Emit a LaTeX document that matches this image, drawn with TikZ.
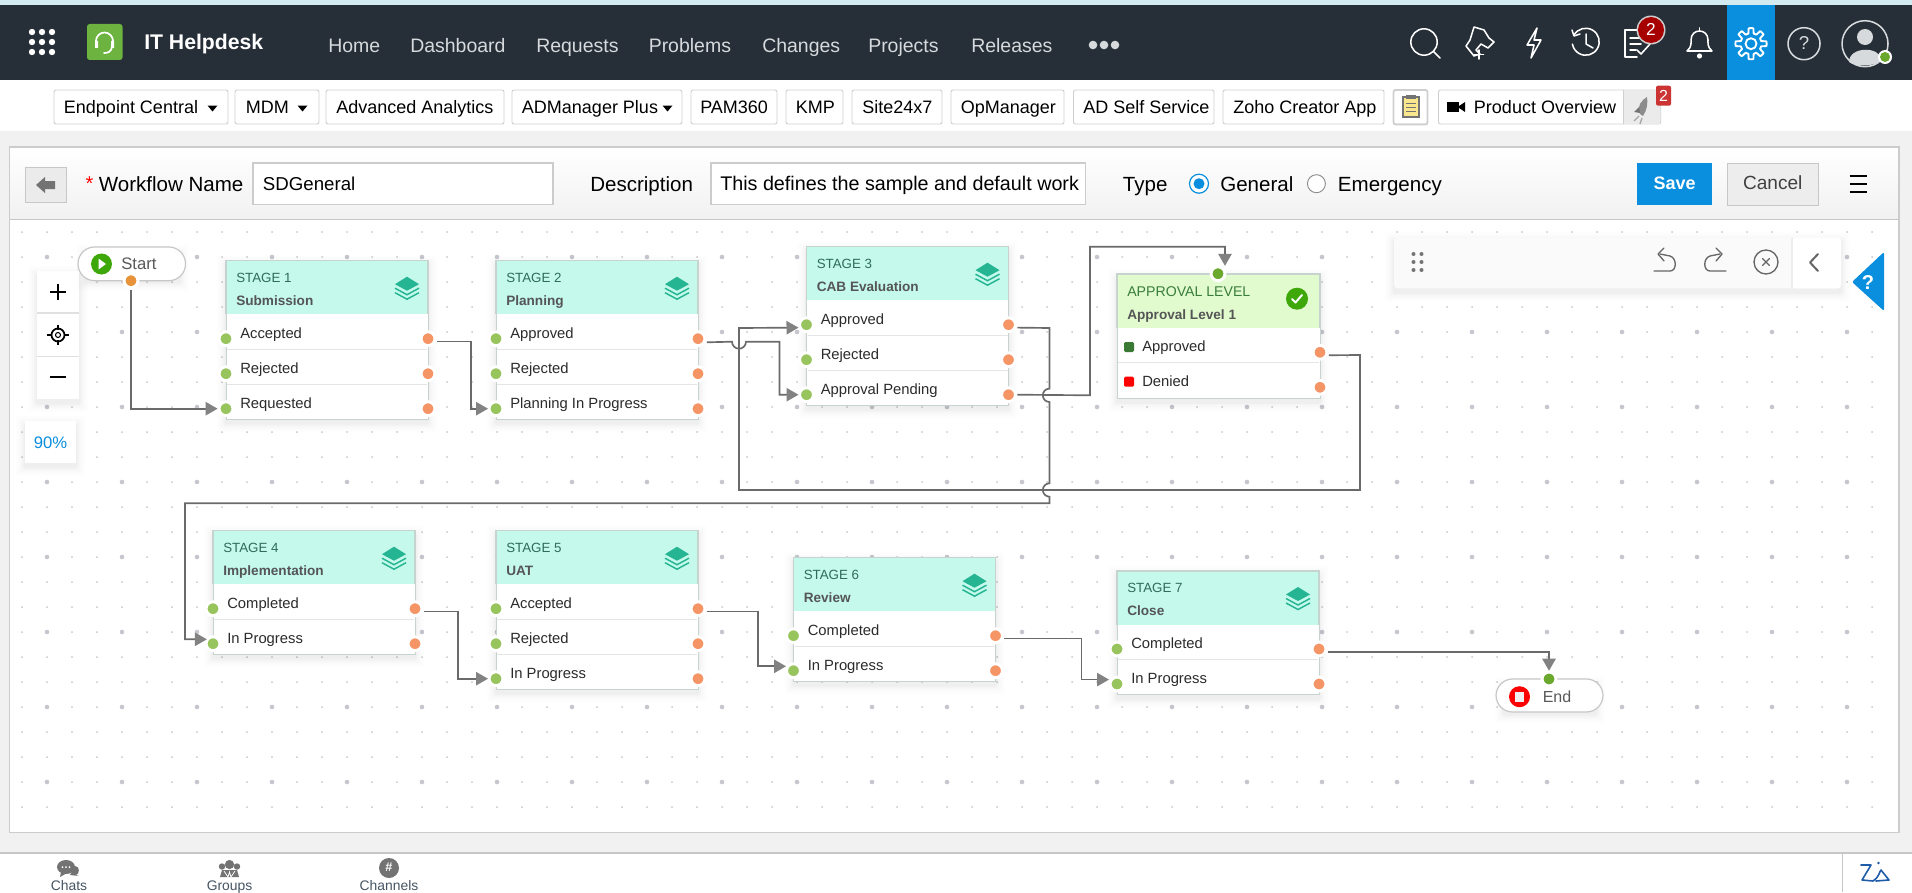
\documentclass[tikz,border=0pt]{standalone}
\usepackage{fontspec}
\setmainfont{Liberation Sans}
\usetikzlibrary{arrows.meta,calc}
\definecolor{barbg}{HTML}{262E37}
\definecolor{stripbg}{HTML}{D3EAF0}
\definecolor{pagebg}{HTML}{F1F1F1}
\definecolor{hdr}{HTML}{C4F9EC}
\definecolor{hdrline}{HTML}{C6D3CF}
\definecolor{aphdr}{HTML}{E1FBCF}
\definecolor{stagetxt}{HTML}{2E6B5C}
\definecolor{titletxt}{HTML}{555555}
\definecolor{rowtxt}{HTML}{2B2B2B}
\definecolor{teal}{HTML}{25B592}
\definecolor{pin}{HTML}{97C45C}
\definecolor{pout}{HTML}{F59566}
\definecolor{wirec}{HTML}{6A6A6A}
\definecolor{tipc}{HTML}{828282}
\definecolor{blueb}{HTML}{0A8FDE}
\definecolor{btnline}{HTML}{CFCFCF}
\definecolor{dotc}{HTML}{C6C6CE}
\definecolor{navtxt}{HTML}{D6DADD}
\definecolor{clipy}{HTML}{FAE68C}
\definecolor{startg}{HTML}{3EA80A}
\definecolor{logog}{HTML}{6CB33F}
\definecolor{aplab}{HTML}{3A7D3A}
\definecolor{dkg}{HTML}{3A7A34}
\definecolor{bott}{HTML}{465564}
\definecolor{ziab}{HTML}{1E5CAA}
\definecolor{topp}{HTML}{6AA82E}
\definecolor{orgp}{HTML}{E8933A}
\tikzset{
  lab/.style={inner sep=0pt,anchor=mid west,yshift=-1.8pt,font=\fontsize{11.1pt}{13pt}\selectfont,text=rowtxt},
  cen/.style={inner sep=0pt,anchor=mid,yshift=-1.6pt},
  nav/.style={inner sep=0pt,anchor=mid west,yshift=-2.6pt,font=\fontsize{14.6pt}{17pt}\selectfont,text=navtxt},
  tool/.style={inner sep=0pt,anchor=mid west,yshift=-2.5pt,font=\fontsize{13.5pt}{16pt}\selectfont,text=black},
  tbtn/.style={draw=btnline,fill=white,rounded corners=1.5pt,line width=.7pt},
  formt/.style={inner sep=0pt,anchor=mid west,yshift=-2.5pt,font=\fontsize{15.4pt}{18pt}\selectfont,text=black},
  stagelab/.style={inner sep=0pt,anchor=mid west,yshift=-1.5pt,font=\fontsize{10pt}{12pt}\selectfont,text=stagetxt},
  stagetitle/.style={inner sep=0pt,anchor=mid west,yshift=-1.2pt,font=\bfseries\fontsize{10.2pt}{12pt}\selectfont,text=titletxt},
  portin/.style={circle,inner sep=0pt,minimum size=10.4pt,fill=pin,draw=white,line width=2.2pt},
  portout/.style={circle,inner sep=0pt,minimum size=10.4pt,fill=pout,draw=white,line width=2.2pt},
  porttop/.style={circle,inner sep=0pt,minimum size=10.4pt,fill=topp,draw=white,line width=2.2pt},
  portstart/.style={circle,inner sep=0pt,minimum size=10.4pt,fill=orgp,draw=white,line width=2.2pt},
  wire/.style={draw=wirec,line width=1.25pt,line join=miter},
  wiret/.style={wire,-{Triangle[length=9pt,width=10pt,fill=tipc,color=tipc]}},
  icw/.style={draw=white,line width=1.15pt,line cap=round,line join=round},
  icg/.style={draw=black!60,line width=1pt,line cap=round,line join=round},
}
\newcommand\softshadow[4]{%
  \foreach \sp/\so in {9/.006,7/.008,5/.01,3/.014,1.5/.018}{%
    \fill[black,opacity=\so,rounded corners=2pt] (#1-\sp,#2-\sp+4) rectangle (#3+\sp,#4+\sp+4);}}
\newcommand\layersicon[2]{%
  \fill[teal] (#1,#2-10) -- (#1+12,#2-2.5) -- (#1,#2+4) -- (#1-12,#2-2.5) -- cycle;
  \draw[teal,line width=1.1pt] (#1-12,#2+1.5) -- (#1,#2+8) -- (#1+12,#2+1.5);
  \draw[teal,line width=1.1pt] (#1-12,#2+6) -- (#1,#2+12.5) -- (#1+12,#2+6);}
% id, x, y, label, title, rows, number of rows
\newcommand\stagecard[7]{%
  \softshadow{#2}{#3}{#2+202}{#3+53.5+35*#7}
  \fill[white] (#2,#3) rectangle (#2+202,#3+53.5+35*#7);
  \draw[hdrline,line width=.7pt] (#2,#3) rectangle (#2+202,#3+53.5+35*#7);
  \fill[hdr] (#2,#3) rectangle (#2+202,#3+53.5);
  \draw[hdrline,line width=.8pt] (#2,#3+53.5) -- (#2,#3) -- (#2+202,#3) -- (#2+202,#3+53.5);
  \node[stagelab] (#1lab) at (#2+10,#3+16) {#4};
  \node[stagetitle] (#1tit) at (#2+10,#3+39.5) {#5};
  \layersicon{#2+181}{#3+26}
  \foreach \rr [count=\ii from 0, evaluate=\ii as \jj using int(\ii+1)] in {#6}{%
    \node[lab] (#1row\jj) at (#2+14,#3+71.5+35*\ii) {\rr};
    \ifnum\ii>0 \draw[black!10,line width=.9pt] (#2+1,#3+53.5+35*\ii) -- (#2+201,#3+53.5+35*\ii);\fi
    \node[portin] (#1i\jj) at (#2,#3+78+35*\ii) {};
    \node[portout] (#1o\jj) at (#2+202,#3+78+35*\ii) {};
  }}
\begin{document}
\begin{tikzpicture}[x=0.75pt,y=-0.75pt]
\useasboundingbox (0,0) rectangle (1912,892);
\clip (0,0) rectangle (1912,892);
% page
\fill[pagebg] (0,0) rectangle (1912,892);
\fill[stripbg] (0,0) rectangle (1912,5);
\fill[barbg] (0,5) rectangle (1912,80);
\fill[white] (0,80) rectangle (1912,130.5);
\fill[blueb] (1727,5) rectangle (1775,80);
% top bar left
\foreach \a in {32,42,52}{\foreach \b in {32,42,52}{\fill[white] (\a,\b) circle[radius=3.2];}}
\fill[logog,rounded corners=2pt] (87,24) rectangle (122.5,60);
\draw[white,line width=1.3pt,line cap=round] (96,46) -- (96,41) arc(180:360:8.5) -- (113,46);
\draw[white,line width=1.3pt,line cap=round] (112,47) .. controls (111,52) and (108,53) .. (104,53);
\fill[white] (95,41) rectangle (98,48) (111,41) rectangle (114,48);
\node[inner sep=0pt,anchor=mid west,yshift=-3pt,font=\bfseries\fontsize{15.9pt}{18pt}\selectfont,text=white] (appname) at (144,42) {IT Helpdesk};
\node[nav] (n1) at (328,46) {Home};
\node[nav] (n2) at (410,46) {Dashboard};
\node[nav] (n3) at (536,46) {Requests};
\node[nav] (n4) at (648.5,46) {Problems};
\node[nav] (n5) at (762,46) {Changes};
\node[nav] (n6) at (868,46) {Projects};
\node[nav] (n7) at (971,46) {Releases};
\foreach \a in {1093,1104,1115}{\fill[navtxt] (\a,45) circle[radius=4.3];}
% top bar icons
\draw[icw] (1424,42) circle[radius=13.2] (1434,52) -- (1440,58);
\draw[icw] (1474,27) -- (1484,30) -- (1489,38) -- (1494,42) -- (1488,48) -- (1481,44) -- (1476,50) -- (1480,54) -- (1474,56) -- (1466,46) -- (1470,40) -- cycle;
\draw[icw] (1479,50) -- (1479,59) (1474.5,54.5) -- (1483.5,54.5);
\draw[icw] (1537,28) -- (1527,45) -- (1534,45) -- (1531,58) -- (1541,40) -- (1534,40) -- cycle;
\draw[icw] (1574,35) arc(-150:170:13.5);
\draw[icw] (1572,30) -- (1574,36) -- (1580,34);
\draw[icw] (1586,34) -- (1586,44) -- (1593,48);
\draw[icw] (1645,30) -- (1625,30) -- (1625,57) -- (1637,57);
\draw[icw] (1630,38) -- (1643,38) (1630,44) -- (1641,44) (1630,50) -- (1636,50);
\draw[icw] (1637,50) -- (1641,54) -- (1650,44);
\fill[white!80!black] (1651,30) circle[radius=14.5];
\fill[red!65!black] (1651,30) circle[radius=13];
\node[cen,font=\fontsize{13pt}{15pt}\selectfont,text=white] (taskbadge) at (1651,30) {2};
\draw[icw] (1687,51) .. controls (1692,47) and (1691,42) .. (1691,40) .. controls (1691,28) and (1708,28) .. (1708,40) .. controls (1708,42) and (1707,47) .. (1712,51) -- cycle;
\draw[icw] (1699.5,28) -- (1699.5,31);
\fill[white] (1699.5,56) circle[radius=2.6];
\draw[icw,line width=1.4pt] plot[domain=0:360,samples=121] ({1751+(13+2.6*max(-1,min(1,3*cos(8*\x))))*cos(\x)},{43.7+(13+2.6*max(-1,min(1,3*cos(8*\x))))*sin(\x)}) -- cycle;
\draw[icw,line width=1.4pt] (1751,43.7) circle[radius=5.5];
\draw[icw,draw=navtxt] (1804,43.7) circle[radius=16];
\node[cen,font=\fontsize{14pt}{16pt}\selectfont,text=navtxt] (helpq) at (1804,43.7) {?};
\draw[icw,draw=navtxt] (1865,43.7) circle[radius=23];
\fill[navtxt] (1865,37) circle[radius=8];
\fill[navtxt] (1849,62) .. controls (1849,46) and (1881,46) .. (1881,60) .. controls (1875,67) and (1855,67) .. (1849,62) -- cycle;
\fill[white] (1885,57) circle[radius=7];
\fill[topp] (1885,57) circle[radius=5];
% toolbar
\foreach \i/\a/\b in {a/54/228,b/235/319,c/326/504,d/512/682,e/691/777,f/786/843,g/852/942,h/951/1064,j/1073.5/1214,k/1223/1384,m/1393.5/1427.5,o/1438.5/1660.7}{%
  \draw[tbtn] (\a,90) rectangle (\b,124);}
\draw[btnline,line width=1.3pt,rounded corners=1.5pt] (1393.5,90) rectangle (1427.5,124.5);
\draw[btnline,line width=.7pt] (1623.6,90) -- (1623.6,124);
\fill[black!8] (1623.9,90.5) rectangle (1660.3,123.5);
\node[tool] (t1) at (63.7,106.7) {Endpoint Central};
\node[tool] (t2) at (245.6,106.7) {MDM};
\node[tool] (t3) at (336,106.7) {Advanced Analytics};
\node[tool] (t4) at (521.7,106.7) {ADManager Plus};
\node[tool] (t5) at (700,106.7) {PAM360};
\node[tool] (t6) at (795.5,106.7) {KMP};
\node[tool] (t7) at (862,106.7) {Site24x7};
\node[tool] (t8) at (960.5,106.7) {OpManager};
\node[tool] (t9) at (1083,106.7) {AD Self Service};
\node[tool] (t10) at (1233,106.7) {Zoho Creator App};
\node[tool] (t11) at (1473.7,106.7) {Product Overview};
\foreach \a in {212.5,302.5,667.5}{\fill[black] (\a-5,105.5) -- (\a+5,105.5) -- (\a,111.5) -- cycle;}
\filldraw[fill=clipy,draw=black!55,line width=.8pt] (1403,97) rectangle (1419,117);
\fill[black!55] (1406,95) rectangle (1416,99);
\draw[black!55,line width=.7pt] (1406,103) -- (1416,103) (1406,107) -- (1416,107) (1406,111) -- (1416,111);
\fill[black] (1447,102) rectangle (1459,112);
\fill[black] (1459,106) -- (1465,102) -- (1465,112) -- (1459,108) -- cycle;
\fill[black!45] (1640,114) .. controls (1636,106) and (1642,100) .. (1647,97) .. controls (1648,103) and (1647,110) .. (1643,116) -- cycle;
\fill[black!55] (1634,112) -- (1639,107) -- (1640,113) -- cycle;
\draw[black!35,line width=1pt] (1639,116) -- (1634,121) (1642,118) -- (1640,124);
\fill[red!75!black!80,rounded corners=1.5pt] (1656,85.7) rectangle (1671,105.7);
\node[cen,font=\fontsize{12pt}{14pt}\selectfont,text=white] (rocketbadge) at (1663.5,95.7) {2};
% main panel
\filldraw[fill=white,draw=black!20,line width=.9pt] (9.5,147) rectangle (1899,832.3);
\shade[top color=white,bottom color=pagebg] (10,147.5) rectangle (1898.5,219);
\draw[black!22,line width=.9pt] (9.5,219.3) -- (1899,219.3);
\draw[black!20,line width=.9pt] (9.5,147) rectangle (1899,832.3);
\filldraw[fill=black!8,draw=black!22,line width=.7pt] (25,167) rectangle (66,202.7);
\fill[black!55] (36,185) -- (45,177) -- (45,181) -- (55,181) -- (55,189) -- (45,189) -- (45,193) -- cycle;
\node[inner sep=0pt,anchor=mid,font=\fontsize{15pt}{17pt}\selectfont,text=red] (star) at (89.5,187) {*};
\node[formt] (wfname) at (98.6,185) {Workflow Name};
\filldraw[fill=white,draw=black!20,line width=.8pt] (253,163) rectangle (553,204.7);
\node[formt,font=\fontsize{14pt}{16pt}\selectfont] (wfval) at (262.7,184) {SDGeneral};
\node[formt] (desc) at (590,185) {Description};
\filldraw[fill=white,draw=black!20,line width=.8pt] (711,163) rectangle (1085.7,204.7);
\node[formt,font=\fontsize{14.8pt}{16pt}\selectfont] (descval) at (720,184) {This defines the sample and default work};
\node[formt] (typel) at (1122.7,185) {Type};
\filldraw[draw=blueb,fill=white,line width=.9pt] (1199,183.7) circle[radius=9.5];
\fill[blueb] (1199,183.7) circle[radius=5.5];
\node[formt] (gen) at (1220,185) {General};
\filldraw[draw=black!45,fill=white,line width=.7pt] (1316.4,183.7) circle[radius=9];
\node[formt] (emer) at (1337.7,185) {Emergency};
\fill[blueb] (1637,163) rectangle (1712,205);
\node[cen,font=\bfseries\fontsize{13.5pt}{16pt}\selectfont,text=white] (savebtn) at (1674.5,184) {Save};
\filldraw[fill=black!7,draw=black!22,line width=.7pt] (1727.5,163) rectangle (1818,205);
\node[cen,font=\fontsize{14.3pt}{16pt}\selectfont,text=black!75] (cancelbtn) at (1772.7,184) {Cancel};
\draw[black,line width=2pt] (1849.5,176) -- (1866.5,176) (1849.5,184) -- (1866.5,184) (1849.5,192) -- (1866.5,192);
% dot grid
\foreach \yy in {232,257,...,807}{\foreach \xx in {22,47,...,1880}{\fill[dotc] (\xx,\yy) circle[radius=1];}}
\foreach \yy in {257,332,...,782}{\foreach \xx in {47,122,...,1880}{\fill[dotc] (\xx,\yy) circle[radius=2.3];}}
% zoom controls
\softshadow{37}{271}{79}{399}
\fill[white] (37,271) rectangle (79,399);
\draw[black!12,line width=.8pt] (37,313) -- (79,313) (37,356.7) -- (79,356.7);
\draw[black,line width=1.8pt] (58,284) -- (58,300) (50,292) -- (66,292);
\draw[black,line width=1.3pt] (58,335) circle[radius=6.5];
\draw[black,line width=.8pt] (58,335) circle[radius=2.5];
\draw[black,line width=1.3pt] (58,325) -- (58,330) (58,340) -- (58,345) (47,335) -- (52,335) (64,335) -- (69,335);
\draw[black,line width=1.8pt] (50,377) -- (66,377);
\softshadow{25}{421}{76}{462.7}
\fill[white] (25,421) rectangle (76,462.7);
\node[cen,font=\fontsize{12.5pt}{15pt}\selectfont,text=blueb] (zoompct) at (50.5,443) {90\%};
% floating toolbar
\softshadow{1394}{237.7}{1841}{288.3}
\fill[black!2,rounded corners=2.5pt] (1394,237.7) rectangle (1841,288.3);
\fill[white,rounded corners=2.5pt] (1792,237.7) rectangle (1841,288.3);
\draw[black!7,line width=.8pt] (1792,237.7) -- (1792,288.3);
\foreach \a in {1413.5,1421.5}{\foreach \b in {254,262,270}{\fill[black!55] (\a,\b) circle[radius=2];}}
\draw[icg] (1654,271) -- (1670,271) .. controls (1677,271) and (1677,258) .. (1670,256) -- (1660,254);
\draw[icg] (1664,248) -- (1658,254) -- (1664,261);
\draw[icg] (1726,271) -- (1710,271) .. controls (1703,271) and (1703,258) .. (1710,256) -- (1720,254);
\draw[icg] (1716,248) -- (1722,254) -- (1716,261);
\draw[icg] (1766,262) circle[radius=12];
\draw[icg] (1762.5,258.5) -- (1769.5,265.5) (1769.5,258.5) -- (1762.5,265.5);
\draw[icg,line width=1.5pt] (1818,254) -- (1810,262.5) -- (1818,271);
\fill[blueb,rounded corners=1.5pt] (1884,252) -- (1852,282) -- (1884,311) -- cycle;
\node[cen,font=\bfseries\fontsize{15pt}{17pt}\selectfont,text=white] (helpmark) at (1868,284) {?};
% start / end
\softshadow{86}{250}{180}{278}
\filldraw[fill=white,draw=black!22,line width=.9pt,rounded corners=12.5pt] (78,247) rectangle (185.5,280.7);
\fill[startg] (101.5,264) circle[radius=10.5];
\fill[white] (98.5,258.5) -- (106,264) -- (98.5,269.5) -- cycle;
\node[lab,font=\fontsize{12.5pt}{14pt}\selectfont,text=black!65] (starttxt) at (121,264) {Start};
\node[portstart] (startp) at (131,280.7) {};
\softshadow{1504}{682}{1596}{710}
\filldraw[fill=white,draw=black!22,line width=.9pt,rounded corners=12.5pt] (1496,679) rectangle (1603,712);
\fill[red] (1519.5,696.7) circle[radius=10.5];
\fill[black!6] (1515,692) rectangle (1524,701.5);
\node[lab,font=\fontsize{12pt}{14pt}\selectfont,text=black!65] (endtxt) at (1542.5,696.7) {End};
\node[porttop] (endp) at (1549,679) {};
% stages
\stagecard{sa}{226}{260.7}{STAGE 1}{Submission}{Accepted,Rejected,Requested}{3}
\stagecard{sb}{496}{260.7}{STAGE 2}{Planning}{Approved,Rejected,Planning In Progress}{3}
\stagecard{sc}{806.5}{246.7}{STAGE 3}{CAB Evaluation}{Approved,Rejected,Approval Pending}{3}
\stagecard{sd}{213}{530.7}{STAGE 4}{Implementation}{Completed,In Progress}{2}
\stagecard{se}{496}{530.7}{STAGE 5}{UAT}{Accepted,Rejected,In Progress}{3}
\stagecard{sf}{793.5}{557.7}{STAGE 6}{Review}{Completed,In Progress}{2}
\stagecard{sg}{1117}{571}{STAGE 7}{Close}{Completed,In Progress}{2}
% approval card
\softshadow{1117}{274}{1320}{398.3}
\fill[white] (1117,274) rectangle (1320,398.3);
\draw[hdrline,line width=.7pt] (1117,274) rectangle (1320,398.3);
\fill[aphdr] (1117,274) rectangle (1320,327.7);
\draw[hdrline,line width=.8pt] (1117,327.7) -- (1117,274) -- (1320,274) -- (1320,327.7);
\draw[black!10,line width=.9pt] (1118,362.7) -- (1319,362.7);
\node[stagelab,text=aplab,font=\fontsize{10.6pt}{12pt}\selectfont] (aplabel) at (1127,290.7) {APPROVAL LEVEL};
\node[stagetitle] (aptit) at (1127,314) {Approval Level 1};
\fill[startg] (1297,298.7) circle[radius=11];
\draw[white,line width=1.5pt,line cap=round,line join=round] (1292,299) -- (1295.5,302.5) -- (1302,295);
\fill[dkg,rounded corners=1pt] (1124,342) rectangle (1134,352);
\fill[red,rounded corners=1pt] (1124,376.7) rectangle (1134,386.7);
\node[lab] (aprow1) at (1142,345.5) {Approved};
\node[lab] (aprow2) at (1142,380.5) {Denied};
\node[portout] (apo1) at (1320,352.3) {};
\node[portout] (apo2) at (1320,387.3) {};
\node[porttop] (apt) at (1218,273.7) {};
% connectors
\draw[wiret] ([yshift=-7pt]startp.center) |- ([xshift=-6.3pt]sai3.center);
\draw[wiret] ([xshift=6.7pt,yshift=-2.2pt]sao1.center) -- ++(34,0) |- ([xshift=-6pt]sbi3.center);
\draw[wiret] ([xshift=6.7pt,yshift=-2.7pt]sbo1.center) -- (732,341.7) arc(180:0:7) -- (779.5,341.7) |- ([xshift=-6pt]sci3.center);
\draw[wiret] ([xshift=6.7pt,yshift=-2.2pt]apo1.center) -- (1360,355) -- (1360,490) -- (739,490) -- (739,328) -- ([xshift=-6pt,yshift=-2.2pt]sci1.center);
\draw[wiret] ([xshift=6.7pt,yshift=-2.2pt]sco1.center) -- (1049.5,328) -- (1049.5,388.6) arc(-90:-270:6.7) -- (1049.5,483.3) arc(-90:-270:6.7) -- (1049.5,503.3) -- (185,503.3) -- (185,639.3) -- ([xshift=-4.6pt,yshift=3.3pt]sdi2.center);
\draw[wiret] ([xshift=6.7pt]sco3.center) -- (1090,395.3) -- (1090,246.7) -- (1225,246.7) -- ([xshift=5.2pt,yshift=5.9pt]apt.center);
\draw[wiret] ([xshift=6.7pt,yshift=-2.2pt]sdo1.center) -- ++(34,0) |- ([xshift=-6pt]sei3.center);
\draw[wiret] ([xshift=6.7pt,yshift=-2.2pt]seo1.center) -- ++(51,0) |- ([xshift=-5.6pt,yshift=3.3pt]sfi2.center);
\draw[wiret] ([xshift=6.7pt,yshift=-2pt]sfo1.center) -- ++(77,0) |- ([xshift=-6pt,yshift=3.3pt]sgi2.center);
\draw[wiret] ([xshift=6.7pt,yshift=-2.2pt]sgo1.center) -| ([yshift=6.2pt]endp.center);
% bottom strip
\fill[white] (0,853) rectangle (1912,892);
\draw[black!22,line width=.9pt] (0,853) -- (1912,853);
\draw[black!22,line width=.9pt] (1842.7,853) -- (1842.7,892);
\fill[black!55] (75,866) .. controls (80,866) and (80,874) .. (76,875) -- (79,876) -- (70,875) -- cycle;
\fill[black!55] (66,867) ellipse[x radius=9,y radius=7];
\fill[black!55] (61,872) -- (60,877) -- (67,873) -- cycle;
\fill[white] (62.5,867) circle[radius=1] (66,867) circle[radius=1] (69.5,867) circle[radius=1];
\node[cen,font=\fontsize{10.4pt}{12pt}\selectfont,text=bott] (chats) at (69,885) {Chats};
\fill[black!55] (229.5,864.5) circle[radius=4.6] (222,866.5) circle[radius=3.2] (237,866.5) circle[radius=3.2];
\fill[black!55] (220,877) -- (222,870) -- (237,870) -- (239,877) -- cycle;
\draw[white,line width=.6pt] (224,871) -- (228,877) -- (229.5,872) -- (231,877) -- (235,871);
\node[cen,font=\fontsize{10.4pt}{12pt}\selectfont,text=bott] (groups) at (229.5,885) {Groups};
\fill[black!55] (389,868) circle[radius=10];
\node[cen,yshift=1.6pt,font=\bfseries\fontsize{9.5pt}{11pt}\selectfont,text=white] (hash) at (389,868) {\#};
\node[cen,font=\fontsize{10.4pt}{12pt}\selectfont,text=bott] (channels) at (389,885) {Channels};
\draw[ziab,line width=1.2pt,line join=round,line cap=round]
  (1861,865) -- (1871,865) -- (1862,880) -- (1873,881) .. controls (1880,876) and (1879,872) .. (1881,870) -- (1889,880) -- (1876,881);
\fill[ziab] (1878.5,863) circle[radius=1.3];
\end{tikzpicture}
\end{document}
